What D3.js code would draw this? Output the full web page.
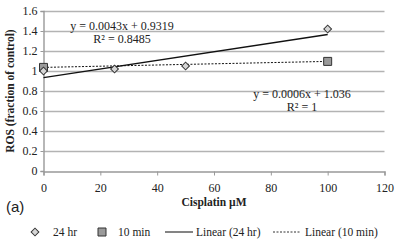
<!DOCTYPE html>
<html>
<head>
<meta charset="utf-8">
<script src="https://cdn.jsdelivr.net/npm/d3@7"></script>
<style>
body{margin:0;background:#fff;}
text{font-family:"Liberation Serif","Times New Roman",serif;fill:#222;}
</style>
</head>
<body>
<script>
// data
var doses24=[0,25,50,100];
var ros24=[1.0,1.02,1.05,1.42];
var doses10=[0,100];
var ros10=[1.036,1.096];
var xTicks=[0,20,40,60,80,100,120];
var yTicks=[0,0.2,0.4,0.6,0.8,1,1.2,1.4,1.6];

var serif='"Liberation Serif","Times New Roman",serif';
var width=398,height=243;
var svg=d3.select('body').append('svg')
  .attr('width',width)
  .attr('height',height);

var xScale=d3.scaleLinear().domain([0,120]).range([43.5,384.5]);
var yScale=d3.scaleLinear().domain([0,1.6]).range([171,11]);

// gridlines
svg.append('g')
  .selectAll('line')
  .data(yTicks.slice(1))
  .enter()
  .append('line')
  .attr('x1',xScale(0))
  .attr('x2',xScale(120))
  .attr('y1',d=>Math.round(yScale(d))+0.5)
  .attr('y2',d=>Math.round(yScale(d))+0.5)
  .style('stroke','#b3b3b3')
  .style('stroke-width',1.4);

var xAxis=d3.axisBottom(xScale).tickValues(xTicks).tickSize(4).tickFormat(d3.format('d'));
var gx=svg.append('g')
  .attr('transform','translate(0,171.5)')
  .call(xAxis)
  .attr('font-family',serif);
gx.select('.domain').style('stroke','#999').style('stroke-width',1.4);
gx.selectAll('.tick line').style('stroke','#999');
gx.selectAll('text').style('font-family',serif).style('font-size','12px').style('fill','#222').attr('dy','1.1em');

var yAxis=d3.axisLeft(yScale).tickValues(yTicks).tickSize(3).tickFormat(d=>d3.format('')(d));
var gy=svg.append('g')
  .attr('transform','translate(43.5,0)')
  .call(yAxis)
  .attr('font-family',serif);
gy.select('.domain').style('stroke','#999').style('stroke-width',1.4);
gy.selectAll('.tick line').style('stroke','#999');
gy.selectAll('text').style('font-family',serif).style('font-size','12px').style('fill','#222').attr('x',-6);

// linear fits
function fit(xs,ys){
  var mx=d3.mean(xs),my=d3.mean(ys);
  var num=d3.sum(xs,(x,i)=>(x-mx)*(ys[i]-my));
  var den=d3.sum(xs,x=>(x-mx)*(x-mx));
  var b=num/den;
  return {b:b,a:my-b*mx};
}
var f24=fit(doses24,ros24);
var f10=fit(doses10,ros10);

svg.append('line')
  .attr('x1',xScale(0)).attr('y1',yScale(f24.a))
  .attr('x2',xScale(100)).attr('y2',yScale(f24.a+f24.b*100))
  .style('stroke','#111').style('stroke-width',1.3);

svg.append('line')
  .attr('x1',xScale(0)).attr('y1',yScale(f10.a))
  .attr('x2',xScale(100)).attr('y2',yScale(f10.a+f10.b*100))
  .style('stroke','#111').style('stroke-width',1).style('stroke-dasharray','2,1.5');

// markers
var sq=d3.symbol().type(d3.symbolSquare).size(64);
var dia=d3.symbol().type(d3.symbolSquare).size(30);

svg.append('g').selectAll('path')
  .data(doses10)
  .enter()
  .append('path')
  .attr('d',sq)
  .attr('transform',(d,i)=>'translate('+xScale(d)+','+yScale(ros10[i])+')')
  .style('fill','#9a9a9a').style('stroke','#333').style('stroke-width',1);

svg.append('g').selectAll('path')
  .data(doses24)
  .enter()
  .append('path')
  .attr('d',dia)
  .attr('transform',(d,i)=>'translate('+xScale(d)+','+yScale(ros24[i])+') rotate(45)')
  .style('fill','#d6d6d6').style('stroke','#333').style('stroke-width',1);

// equations
var eq=svg.append('g').style('font-size','12px').attr('text-anchor','middle');
eq.append('text').attr('x',122).attr('y',30).text('y = 0.0043x + 0.9319');
eq.append('text').attr('x',122).attr('y',43).text('R² = 0.8485');
eq.append('text').attr('x',302).attr('y',98).text('y = 0.0006x + 1.036');
eq.append('text').attr('x',302).attr('y',111).text('R² = 1');

// axis titles
svg.append('text')
  .attr('x',214).attr('y',206)
  .attr('text-anchor','middle')
  .style('font-size','11.5px').style('font-weight','bold')
  .text('Cisplatin µM');

svg.append('text')
  .attr('transform','translate(14,91) rotate(-90)')
  .attr('text-anchor','middle')
  .style('font-size','11.5px').style('font-weight','bold')
  .text('ROS (fraction of control)');

svg.append('text')
  .attr('x',6).attr('y',212)
  .style('font-family','"Liberation Sans",Arial,sans-serif')
  .style('font-size','15px')
  .text('(a)');

// legend
var lg=svg.append('g').style('font-size','11.5px');
lg.append('path').attr('d',dia).attr('transform','translate(35,232) rotate(45)')
  .style('fill','#d6d6d6').style('stroke','#333');
lg.append('text').attr('x',53).attr('y',236).text('24 hr');
lg.append('path').attr('d',sq).attr('transform','translate(102,232)')
  .style('fill','#9a9a9a').style('stroke','#333');
lg.append('text').attr('x',118).attr('y',236).text('10 min');
lg.append('line').attr('x1',165).attr('x2',193).attr('y1',232).attr('y2',232)
  .style('stroke','#333').style('stroke-width',1.2);
lg.append('text').attr('x',196).attr('y',236).text('Linear (24 hr)');
lg.append('line').attr('x1',273).attr('x2',301).attr('y1',232).attr('y2',232)
  .style('stroke','#333').style('stroke-dasharray','2,1.5');
lg.append('text').attr('x',305).attr('y',236).text('Linear (10 min)');
</script>
</body>
</html>
